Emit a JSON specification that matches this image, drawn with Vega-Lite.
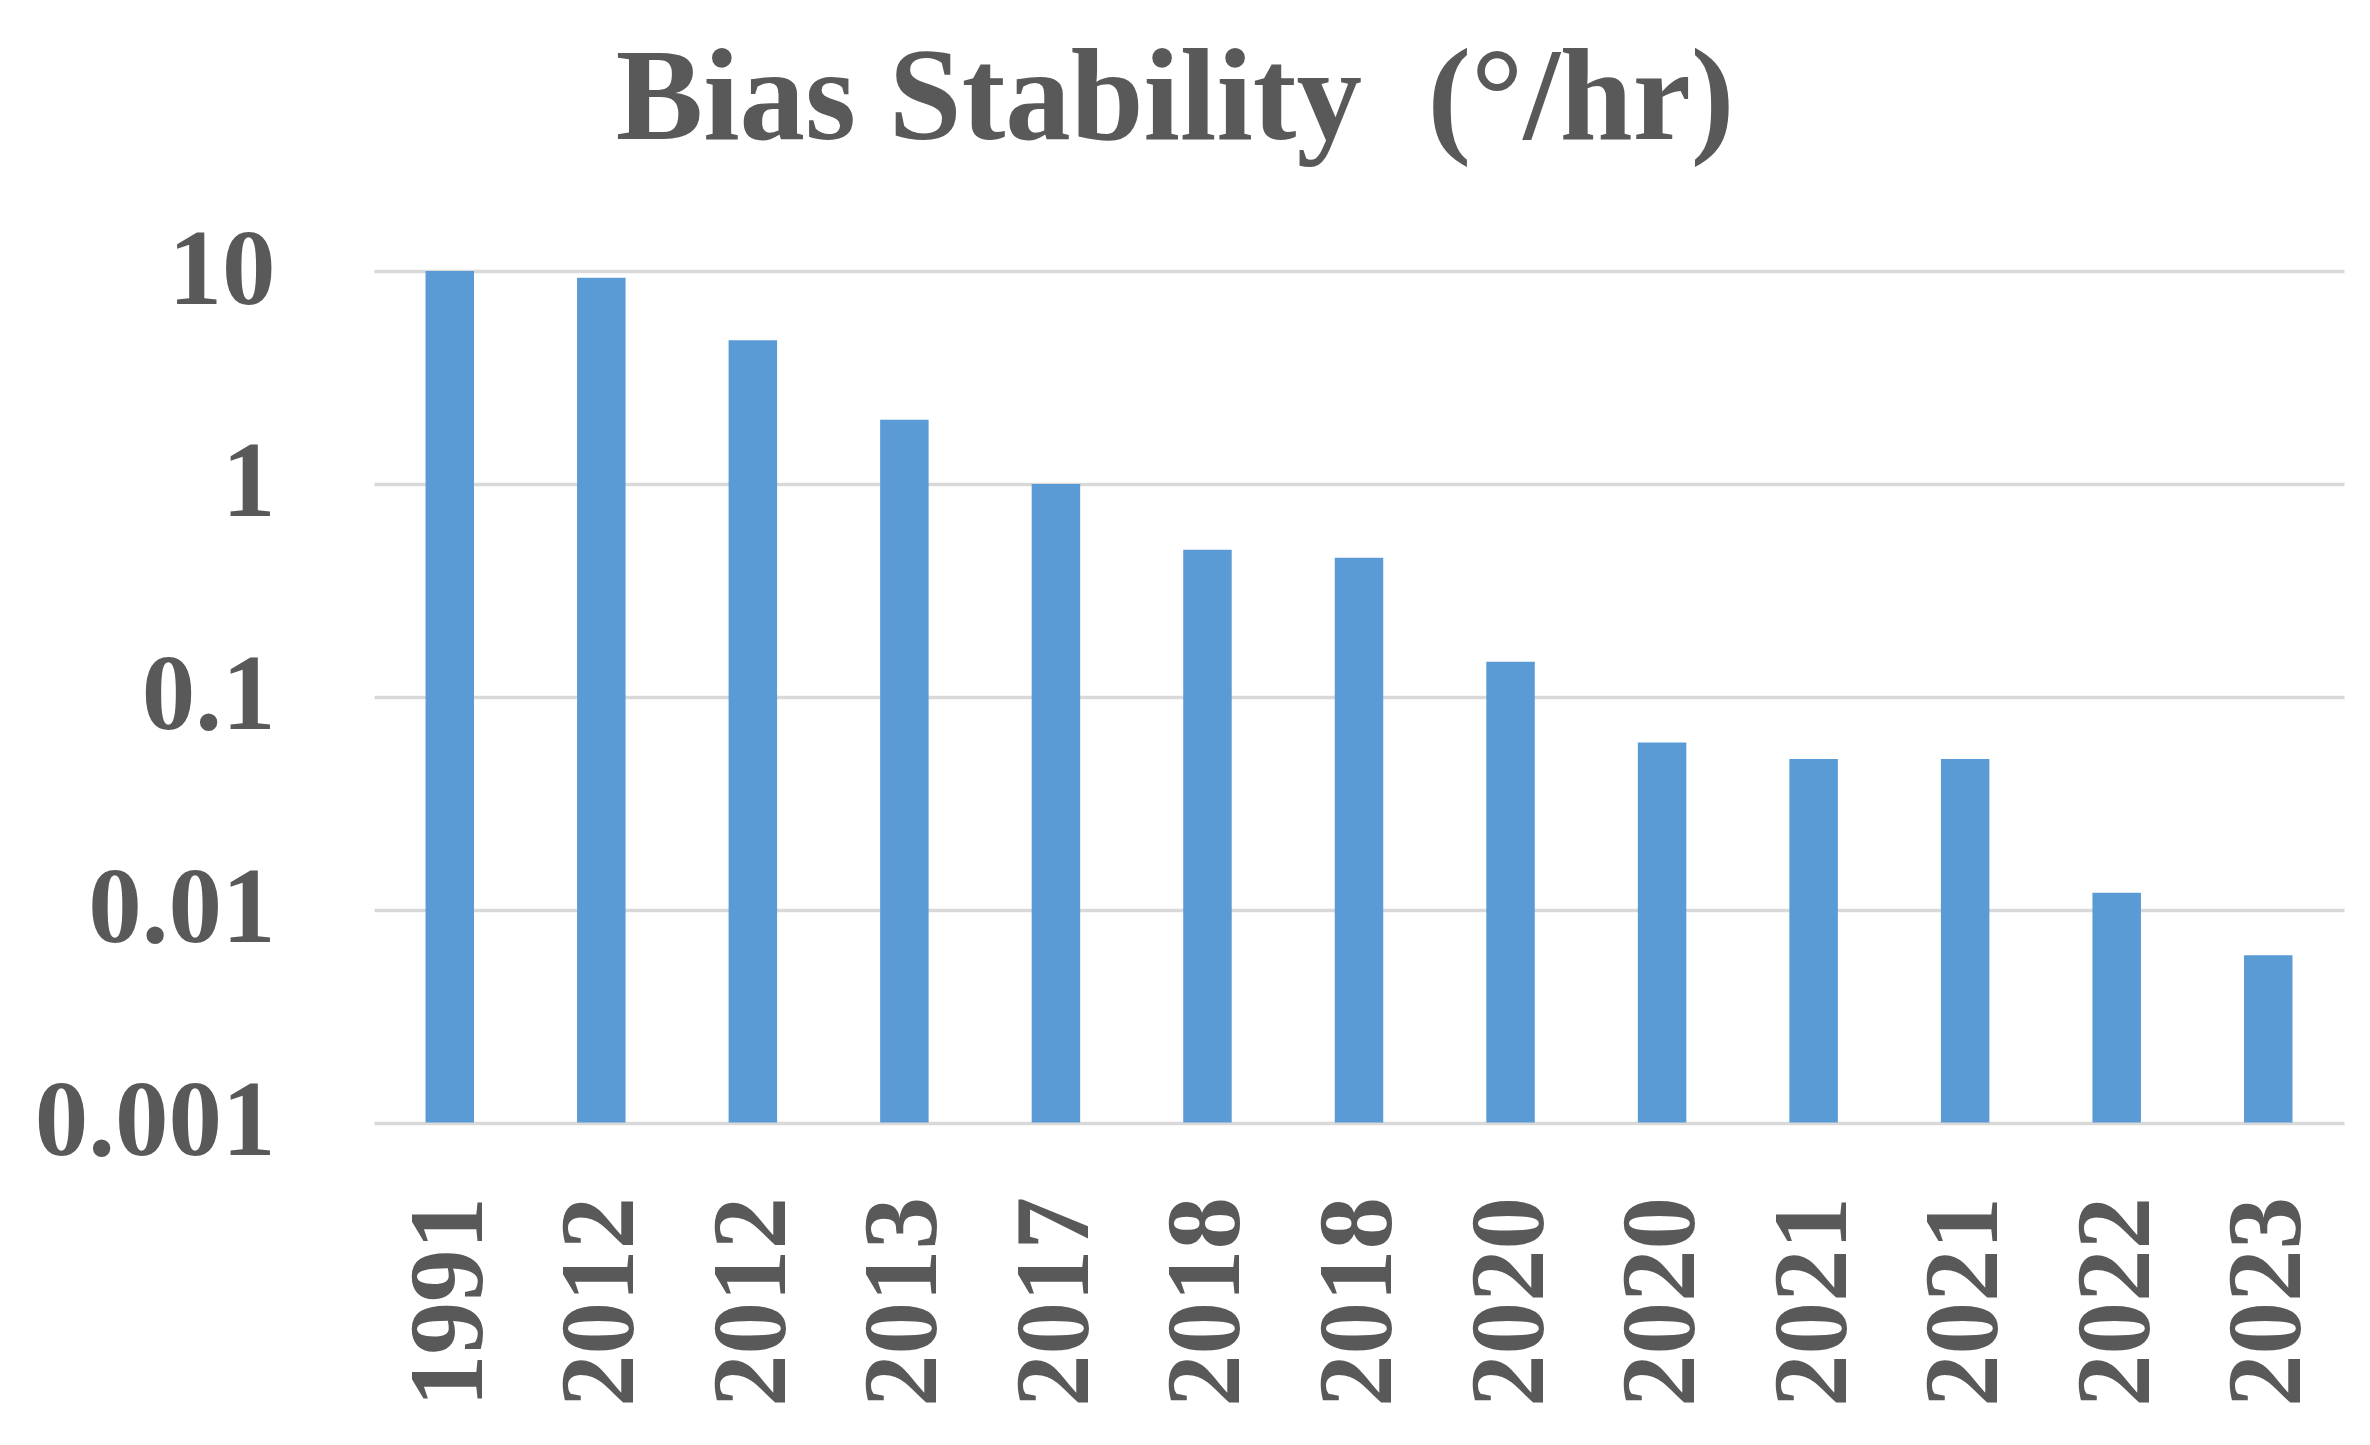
{
  "$schema": "https://vega.github.io/schema/vega-lite/v6.json",
  "autosize": {"type": "none"},
  "padding": {"left": 374, "top": 271, "right": 26, "bottom": 322},
  "width": 1970,
  "height": 851.5,
  "background": "white",
  "title": {
    "text": "Bias Stability\u00a0 (°/hr)",
    "font": "Liberation Serif",
    "fontSize": 131,
    "fontWeight": "bold",
    "color": "#595959",
    "anchor": "middle",
    "frame": "bounds",
    "offset": 50,
    "dx": -14
  },
  "data": {
    "values": [
      {"key": "1991-a", "year": "1991", "bias": 10},
      {"key": "2012-a", "year": "2012", "bias": 9.3},
      {"key": "2012-b", "year": "2012", "bias": 4.73},
      {"key": "2013-a", "year": "2013", "bias": 2.0},
      {"key": "2017-a", "year": "2017", "bias": 1.0},
      {"key": "2018-a", "year": "2018", "bias": 0.49},
      {"key": "2018-b", "year": "2018", "bias": 0.45},
      {"key": "2020-a", "year": "2020", "bias": 0.146},
      {"key": "2020-b", "year": "2020", "bias": 0.061},
      {"key": "2021-a", "year": "2021", "bias": 0.051},
      {"key": "2021-b", "year": "2021", "bias": 0.051},
      {"key": "2022-a", "year": "2022", "bias": 0.012},
      {"key": "2023-a", "year": "2023", "bias": 0.0061}
    ]
  },
  "mark": {"type": "bar", "color": "#5B9BD5"},
  "encoding": {
    "x": {
      "field": "key",
      "type": "nominal",
      "sort": null,
      "scale": {"paddingInner": 0.68, "paddingOuter": 0.34},
      "axis": {
        "title": null,
        "labelExpr": "substring(datum.value, 0, 4)",
        "labelAngle": -90,
        "labelAlign": "right",
        "labelBaseline": "middle",
        "labelFont": "Liberation Serif",
        "labelFontSize": 105,
        "labelFontWeight": "bold",
        "labelColor": "#595959",
        "labelPadding": 74,
        "labelLimit": 0,
        "ticks": false,
        "domain": false,
        "grid": false
      }
    },
    "y": {
      "field": "bias",
      "type": "quantitative",
      "scale": {"type": "log", "domain": [0.001, 10], "nice": false},
      "axis": {
        "title": null,
        "values": [0.001, 0.01, 0.1, 1, 10],
        "labelExpr": "datum.value >= 1 ? format(datum.value, 'd') : format(datum.value, '.3~f')",
        "labelFont": "Liberation Serif",
        "labelFontSize": 107,
        "labelFontWeight": "bold",
        "labelColor": "#595959",
        "labelPadding": 99,
        "labelBaseline": "middle",
        "labelLimit": 0,
        "ticks": false,
        "domain": false,
        "grid": true,
        "gridColor": "#D9D9D9",
        "gridWidth": 3.5
      }
    },
    "y2": {"datum": 0.001}
  },
  "config": {
    "view": {"stroke": null}
  }
}
